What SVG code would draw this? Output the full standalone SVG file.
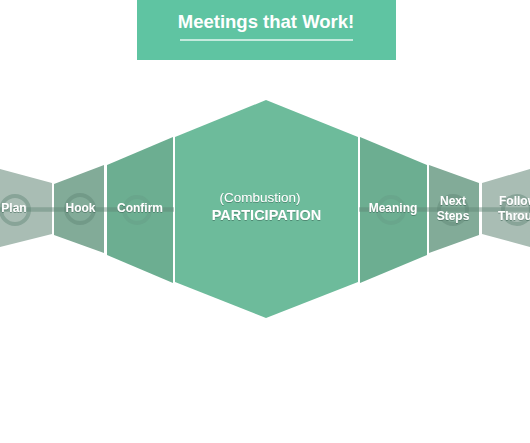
<svg xmlns="http://www.w3.org/2000/svg" width="530" height="443" viewBox="0 0 530 443">
<style>
.lbl{font-family:"Liberation Sans",Arial,sans-serif;font-weight:bold;font-size:12px;fill:#ffffff;text-anchor:middle}
.ring{fill:none;stroke:#5f8676;stroke-opacity:0.45;stroke-width:4}
.p1{fill:#a9bdb4}
.p2{fill:#82ab98}
.p3{fill:#6cae91}
</style>
<defs>
<filter id="sh" x="-10%" y="-30%" width="120%" height="160%">
<feDropShadow dx="0" dy="1" stdDeviation="0.6" flood-color="#2f5a48" flood-opacity="0.5"/>
</filter>
</defs>
<rect width="530" height="443" fill="#ffffff"/>
<g id="title">
<rect x="137" y="0" width="259" height="60" fill="#5fc4a2"/>
<text x="266" y="28" font-family="Liberation Sans,Arial,sans-serif" font-weight="bold" font-size="18.5" fill="#ffffff" text-anchor="middle">Meetings that Work!</text>
<line x1="180" y1="40" x2="353" y2="40" stroke="#e6f7f0" stroke-width="1.5"/>
</g>
<g id="plan">
<polygon class="p1" points="0,169 52,183 52,234 0,247"/>
</g>
<g id="hook">
<polygon class="p2" points="54,184 104,165 104,253 54,235"/>
</g>
<g id="confirm">
<polygon class="p3" points="107,165 173,137 173,283 107,255"/>
</g>
<g id="participation">
<polygon fill="#6dbb9b" points="175,137 266,100 358,137 358,282 266,318 175,282"/>
</g>
<g id="meaning">
<polygon class="p3" points="360,137 427,165 427,255 360,283"/>
</g>
<g id="next-steps">
<polygon class="p2" points="429,165 479,183 479,235 429,253"/>
</g>
<g id="follow-through">
<polygon class="p1" points="482,183 530,169 530,247 482,234"/>
</g>
<g id="connectors">
<line x1="0" y1="209.5" x2="174" y2="209.5" stroke="#5f8676" stroke-opacity="0.45" stroke-width="4.5"/>
<line x1="359" y1="209.5" x2="530" y2="209.5" stroke="#5f8676" stroke-opacity="0.45" stroke-width="4.5"/>
<circle class="ring" cx="15" cy="210" r="14"/>
<circle class="ring" cx="80" cy="209" r="14"/>
<circle class="ring" cx="137" cy="210" r="13" style="stroke-opacity:0.2"/>
<circle class="ring" cx="391" cy="210" r="13" style="stroke-opacity:0.2"/>
<circle class="ring" cx="453" cy="210" r="14"/>
<circle class="ring" cx="517" cy="210" r="14"/>
</g>
<g id="labels" filter="url(#sh)">
<text class="lbl" x="14" y="212">Plan</text>
<text class="lbl" x="80.5" y="212">Hook</text>
<text class="lbl" x="140" y="212">Confirm</text>
<text class="lbl" x="260" y="202" style="font-weight:normal;font-size:13.5px">(Combustion)</text>
<text class="lbl" x="266.5" y="220" style="font-size:14.5px">PARTICIPATION</text>
<text class="lbl" x="393" y="212">Meaning</text>
<text class="lbl" x="453" y="205">Next</text>
<text class="lbl" x="453" y="220">Steps</text>
<text class="lbl" x="499" y="205" style="text-anchor:start">Follow</text>
<text class="lbl" x="498" y="220" style="text-anchor:start">Through</text>
</g>
</svg>
